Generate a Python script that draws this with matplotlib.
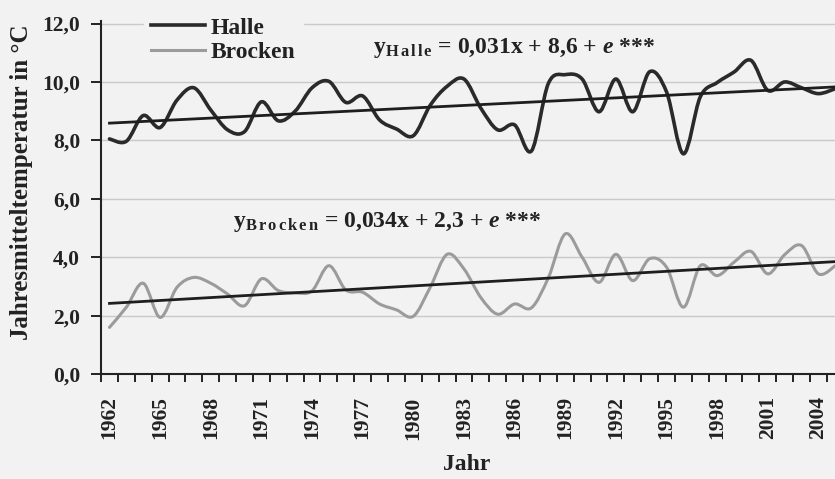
import numpy as np
import matplotlib.pyplot as plt
from matplotlib.path import Path
from matplotlib.patches import PathPatch
from matplotlib.lines import Line2D

# Jahresmitteltemperaturen
years = list(range(1962, 2006))
halle = [8.05, 7.97, 8.85, 8.44, 9.38, 9.80, 9.04, 8.36, 8.30, 9.32, 8.67,
         9.00, 9.80, 10.02, 9.30, 9.52, 8.70, 8.39, 8.16, 9.20, 9.85, 10.10,
         9.10, 8.36, 8.53, 7.64, 9.95, 10.25, 10.10, 8.98, 10.10, 8.98, 10.35,
         9.66, 7.54, 9.49, 9.98, 10.34, 10.74, 9.71, 10.00, 9.80, 9.60, 9.77]
brocken = [1.60, 2.29, 3.11, 1.94, 2.97, 3.31, 3.11, 2.74, 2.34, 3.26, 2.86,
           2.78, 2.85, 3.71, 2.88, 2.80, 2.40, 2.20, 1.98, 2.97, 4.10, 3.60,
           2.62, 2.05, 2.40, 2.27, 3.30, 4.80, 4.00, 3.14, 4.10, 3.20, 3.95,
           3.66, 2.29, 3.71, 3.37, 3.83, 4.20, 3.43, 4.09, 4.40, 3.43, 3.71]
# trend lines, start (1962) and end (2005) as drawn
trend_years = [1962, 2005]
halle_trend = [8.59, 9.83]
brocken_trend = [2.42, 3.85]

tick_years = list(range(1962, 2005, 3))
y_ticks = [0, 2, 4, 6, 8, 10, 12]

BG = "#f2f2f2"
INK = "#222222"
SERIF = "Liberation Serif"

plt.rcParams['font.family'] = SERIF
plt.rcParams['font.weight'] = 'bold'
plt.rcParams['mathtext.fontset'] = 'custom'
plt.rcParams['mathtext.rm'] = 'Liberation Serif:bold'
plt.rcParams['mathtext.bf'] = 'Liberation Serif:bold'
plt.rcParams['mathtext.it'] = 'Liberation Serif:italic:bold'


def smooth_path(x, y):
    # Excel-style smoothed line: cubic bezier segments through every point
    x = np.asarray(x, float)
    y = np.asarray(y, float)
    n = len(x)
    verts = [(x[0], y[0])]
    codes = [Path.MOVETO]
    for i in range(n - 1):
        a = max(i - 1, 0)
        b = min(i + 2, n - 1)
        c1 = (x[i] + (x[i + 1] - x[a]) / 6, y[i] + (y[i + 1] - y[a]) / 6)
        c2 = (x[i + 1] - (x[b] - x[i]) / 6, y[i + 1] - (y[b] - y[i]) / 6)
        verts += [c1, c2, (x[i + 1], y[i + 1])]
        codes += [Path.CURVE4] * 3
    return Path(verts, codes)


fig = plt.figure(figsize=(8.35, 4.79), dpi=100, facecolor=BG)
ax = fig.add_axes([0.121, 0.219, 0.879, 0.738])
ax.set_facecolor(BG)

for v in y_ticks[1:]:
    ax.axhline(v, color="#c9c9c9", lw=1.0, zorder=1)

ax.add_patch(PathPatch(smooth_path(years, brocken), fill=False, edgecolor="#9b9b9b",
                       lw=2.2, capstyle='round', joinstyle='round', zorder=3))
ax.add_patch(PathPatch(smooth_path(years, halle), fill=False, edgecolor="#2a2a2a",
                       lw=2.6, capstyle='round', joinstyle='round', zorder=3))
ax.plot(trend_years, halle_trend, color="#1e1e1e", lw=2.0, zorder=4)
ax.plot(trend_years, brocken_trend, color="#1e1e1e", lw=2.0, zorder=4)

ax.set_xlim(1961.5, 2004.98)
ax.set_ylim(0, 12.1)

ax.set_yticks(y_ticks)
ax.set_yticklabels([f"{v:.1f}".replace(".", ",") for v in y_ticks], fontsize=15.5, color=INK)
ax.set_xticks(tick_years)
ax.set_xticklabels([str(y) for y in tick_years], rotation=90, fontsize=15.5, color=INK)
ax.set_xticks(np.arange(1961.5, 2005.5, 1.0), minor=True)
ax.tick_params(axis='x', which='major', length=0, pad=16)
ax.tick_params(axis='x', which='minor', length=6, width=1.4, color=INK, direction='out')
ax.tick_params(axis='y', length=7, width=1.4, color=INK, direction='out', pad=8)

for s in ['top', 'right']:
    ax.spines[s].set_visible(False)
for s in ['left', 'bottom']:
    ax.spines[s].set_color(INK)
    ax.spines[s].set_linewidth(1.5)

handles = [Line2D([], [], color="#2a2a2a", lw=2.6),
           Line2D([], [], color="#9b9b9b", lw=2.2)]
leg = ax.legend(handles, ["Halle", "Brocken"], loc='upper left',
                bbox_to_anchor=(0.058, 1.03), frameon=True, facecolor=BG,
                edgecolor=BG, framealpha=1.0, handlelength=2.3,
                handletextpad=0.25, labelspacing=0.12, borderpad=0.3,
                borderaxespad=0.0, prop={'family': SERIF, 'weight': 'bold', 'size': 17})
leg.get_frame().set_boxstyle('square', pad=0.0)
for t in leg.get_texts():
    t.set_color(INK)

ax.text(1977.6, 11.16, r"y$_{\rm H\,a\,l\,l\,e}$ = 0,031x + 8,6 + $\it{e}$ ***",
        fontsize=17, ha='left', va='center', color=INK, zorder=5)
ax.text(1969.3, 5.2, r"y$_{\rm B\,r\,o\,c\,k\,e\,n}$ = 0,034x + 2,3 + $\it{e}$ ***",
        fontsize=17, ha='left', va='center', color=INK, zorder=5)

fig.text(22 / 835, 1 - 182 / 479, "Jahresmitteltemperatur in °C", rotation=90,
         ha='center', va='center', fontsize=18, color=INK)
fig.text(467 / 835, 1 - 465 / 479, "Jahr", ha='center', va='center',
         fontsize=17, color=INK)

fig.savefig("out.png", dpi=100, facecolor=BG)
